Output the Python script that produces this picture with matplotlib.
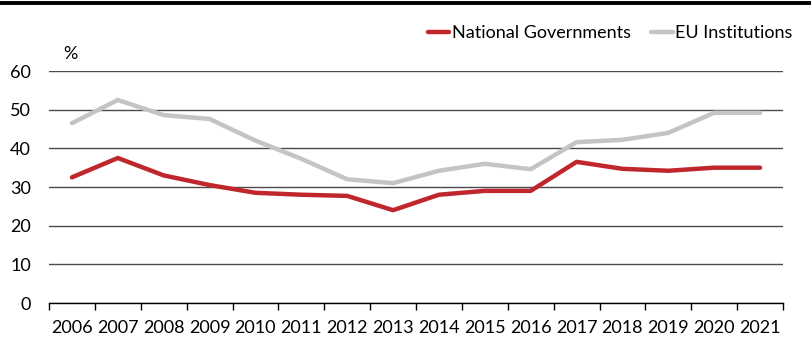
import matplotlib
matplotlib.use("Agg")
import matplotlib.pyplot as plt
from matplotlib.lines import Line2D
import numpy as np

plt.rcParams['font.family'] = ['Lato', 'DejaVu Sans']

years = [str(y) for y in range(2006, 2022)]
national = [32.5, 37.5, 33.0, 30.5, 28.5, 28.0, 27.7, 24.0, 28.0, 29.0, 29.0, 36.5, 34.7, 34.2, 35.0, 35.0]
eu = [46.5, 52.5, 48.6, 47.6, 42.0, 37.3, 32.0, 31.0, 34.2, 36.0, 34.6, 41.6, 42.2, 44.0, 49.2, 49.2]

fig = plt.figure(figsize=(8.11, 3.38), dpi=100)
ax = fig.add_axes([49/811, 1 - 303/338, (783-49)/811, (303-71)/338])

x = np.arange(len(years))
ax.plot(x, national, color='#C0272D', lw=3.2, label='National Governments', solid_capstyle='round', zorder=3)
ax.plot(x, eu, color='#C4C4C4', lw=3.2, label='EU Institutions', solid_capstyle='round', zorder=2)

ax.set_xlim(-0.5, len(years) - 0.5)
ax.set_ylim(0, 60)
ax.set_yticks(range(0, 61, 10))
ax.yaxis.grid(True, color='#4a4a4a', lw=1.0)
ax.set_axisbelow(True)
ax.tick_params(axis='y', length=0, labelsize=13, pad=13)
ax.set_xticks(x)
ax.set_xticklabels(years)
ax.set_xticks(np.arange(-0.5, len(years), 1), minor=True)
ax.tick_params(axis='x', which='major', length=0, labelsize=13, pad=12)
ax.tick_params(axis='x', which='minor', length=5, width=1, direction='out', color='black')
for s in ['top', 'right', 'left']:
    ax.spines[s].set_visible(False)
ax.spines['bottom'].set_color('black')
ax.spines['bottom'].set_linewidth(1.0)

ax.text(70/811, 1 - 54/338, '%', transform=fig.transFigure, ha='center', va='center', fontsize=13)

fig.add_artist(Line2D([0, 1], [1 - 3/338, 1 - 3/338], transform=fig.transFigure, color='black', lw=2.8))

leg = fig.legend(loc='upper right', bbox_to_anchor=(800/811, 1 - 18/338), ncol=2, frameon=False,
                 fontsize=13, handlelength=1.2, handletextpad=0.15, columnspacing=1.1,
                 borderaxespad=0)

fig.savefig('out.png', dpi=100)
